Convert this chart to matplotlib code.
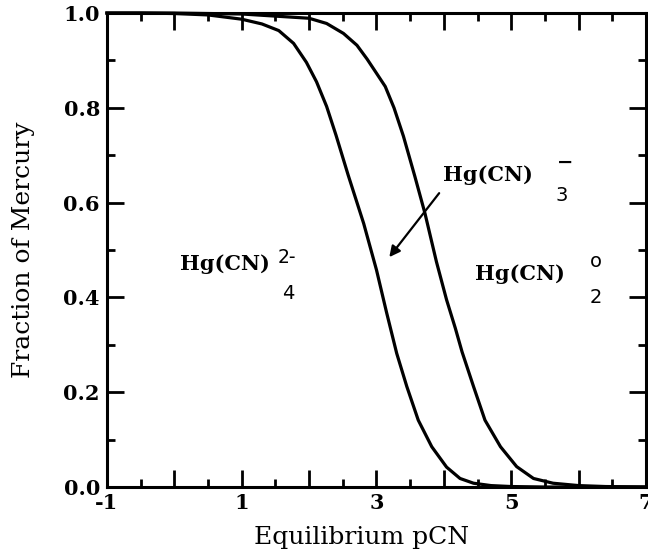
import matplotlib
matplotlib.use("Agg")
import matplotlib.pyplot as plt
from matplotlib.ticker import MultipleLocator, FuncFormatter

# Curve 1: fraction of mercury as Hg(CN)4^2-
pcn_a = [-1.0, -0.5, 0.0, 0.5, 1.0, 1.3, 1.55, 1.77, 1.96, 2.11, 2.26, 2.4,
         2.58, 2.81, 3.0, 3.15, 3.3, 3.45, 3.62, 3.82, 4.04, 4.24, 4.44,
         4.7, 5.0, 5.5, 6.0, 7.0]
frac_a = [1.0, 1.0, 0.999, 0.996, 0.987, 0.977, 0.963, 0.936, 0.896, 0.855,
          0.803, 0.742, 0.658, 0.556, 0.458, 0.368, 0.282, 0.212, 0.141,
          0.085, 0.042, 0.018, 0.008, 0.003, 0.001, 0.0, 0.0, 0.0]

# Curve 2: fraction of mercury as Hg(CN)4^2- + Hg(CN)3^-
pcn_b = [-1.0, 0.0, 1.0, 2.0, 2.26, 2.51, 2.71, 2.86, 3.0, 3.13, 3.26, 3.4,
         3.57, 3.72, 3.89, 4.04, 4.17, 4.27, 4.44, 4.61, 4.84, 5.08, 5.33,
         5.62, 6.0, 6.4, 7.0]
frac_b = [1.0, 1.0, 0.998, 0.989, 0.978, 0.957, 0.932, 0.903, 0.873, 0.845,
          0.800, 0.740, 0.655, 0.577, 0.475, 0.395, 0.335, 0.285, 0.212,
          0.141, 0.085, 0.043, 0.018, 0.008, 0.003, 0.001, 0.0]

xlabel = "Equilibrium pCN"
ylabel = "Fraction of Mercury"

SERIF = "DejaVu Serif"
SANS = "DejaVu Sans"

fig = plt.figure(figsize=(6.48, 5.55), dpi=100)
ax = fig.add_axes([0.165, 0.1225, 0.832, 0.854])

ax.plot(pcn_a, frac_a, color="black", lw=2.3, clip_on=False,
        solid_joinstyle="round")
ax.plot(pcn_b, frac_b, color="black", lw=2.3, clip_on=False,
        solid_joinstyle="round")

ax.set_xlim(-1, 7)
ax.set_ylim(0, 1)

ax.xaxis.set_major_locator(MultipleLocator(1))
ax.xaxis.set_minor_locator(MultipleLocator(0.5))
ax.yaxis.set_major_locator(MultipleLocator(0.2))
ax.yaxis.set_minor_locator(MultipleLocator(0.1))

def xfmt(v, pos):
    iv = int(round(v))
    return f"{iv}" if iv % 2 != 0 else ""
ax.xaxis.set_major_formatter(FuncFormatter(xfmt))
ax.yaxis.set_major_formatter(FuncFormatter(lambda v, p: f"{v:.1f}"))

ax.tick_params(which="both", direction="in", top=True, right=True, width=2.0,
               labelsize=15)
ax.tick_params(which="major", length=12)
ax.tick_params(which="minor", length=6)
ax.tick_params(axis="x", pad=4)
ax.tick_params(axis="y", pad=5)
for lab in ax.get_xticklabels() + ax.get_yticklabels():
    lab.set_fontfamily(SERIF)
    lab.set_fontweight("bold")

for s in ax.spines.values():
    s.set_linewidth(2.2)

ax.set_xlabel(xlabel, fontfamily=SERIF, fontsize=18)
ax.set_ylabel(ylabel, fontfamily=SERIF, fontsize=18)
ax.xaxis.set_label_coords(0.473, -0.083)
ax.xaxis.label.set_va("top")
ax.yaxis.set_label_coords(-0.133, 0.5)

# Species labels
fs = 15
ax.text(0.08, 0.458, "Hg(CN)", fontfamily=SERIF, fontsize=fs, fontweight="bold",
        va="baseline", ha="left")
ax.text(1.54, 0.485, "2-", fontfamily=SANS, fontsize=13.5, va="center", ha="left")
ax.text(1.69, 0.409, "4", fontfamily=SANS, fontsize=14, va="center", ha="center")

ax.text(3.99, 0.646, "Hg(CN)", fontfamily=SERIF, fontsize=fs, fontweight="bold",
        va="baseline", ha="left")
ax.text(5.80, 0.684, "\u2212", fontfamily=SANS, fontsize=14, fontweight="bold",
        va="center", ha="center")
ax.text(5.75, 0.615, "3", fontfamily=SANS, fontsize=14, va="center", ha="center")

ax.text(4.46, 0.437, "Hg(CN)", fontfamily=SERIF, fontsize=fs, fontweight="bold",
        va="baseline", ha="left")
ax.text(6.25, 0.475, "o", fontfamily=SANS, fontsize=14, va="center", ha="center")
ax.text(6.26, 0.40, "2", fontfamily=SANS, fontsize=14, va="center", ha="center")

ax.annotate("", xy=(3.19, 0.485), xytext=(3.93, 0.62),
            arrowprops=dict(arrowstyle="-|>", color="black", lw=1.6,
                            mutation_scale=16, shrinkA=0, shrinkB=0))

fig.savefig("out.png", dpi=100)
